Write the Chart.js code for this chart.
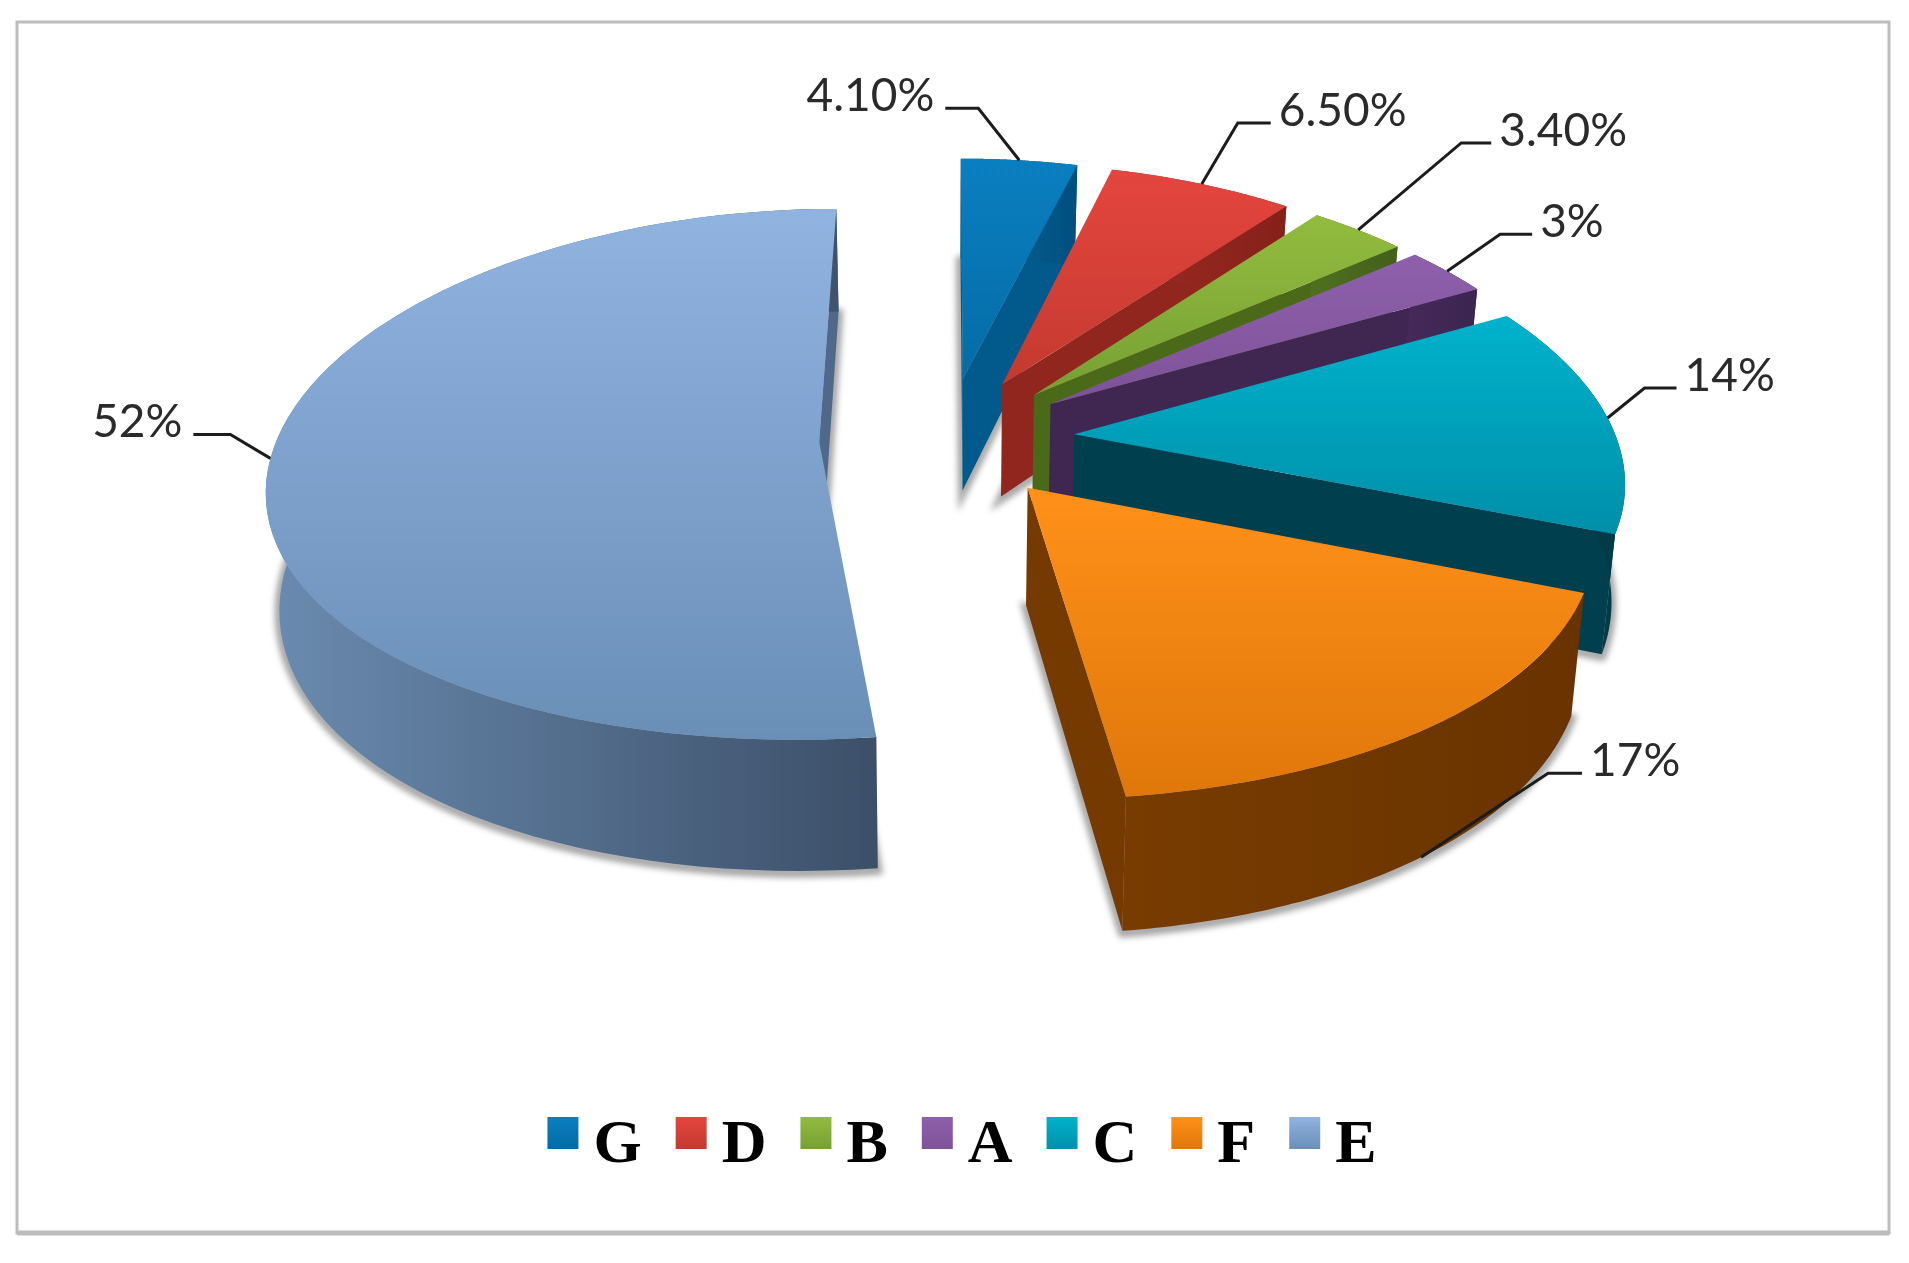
<!DOCTYPE html>
<html>
<head>
<meta charset="utf-8">
<title>Pie</title>
<script src="https://cdn.jsdelivr.net/npm/chart.js@4"></script>
<style>
    html, body { margin: 0; padding: 0; background: #fff; }
    canvas { display: block; filter: blur(0.7px); }
</style>
</head>
<body>
<canvas id="pie" width="1909" height="1263"></canvas>
<script>
// Values, clockwise from the top
const categories = ['G', 'D', 'B', 'A', 'C', 'F', 'E'];
const shares = [4.1, 6.5, 3.4, 3, 14, 17, 52];
const shareLabels = ['4.10%', '6.50%', '3.40%', '3%', '14%', '17%', '52%'];

// Colours per slice
const topLight = ['#0a7fc0', '#e4463e', '#92bc3e', '#8e60ac', '#00b2cc', '#ff9119', '#90b3e0'];
const topDark = ['#046ca6', '#c4392f', '#76a034', '#7e5298', '#008fa9', '#e0770a', '#6a8fb7'];
const sideLight = ['#0b6497', '#9e2b22', '#4f7020', '#45295a', '#00424f', '#783c00', '#6a8bb0'];
const sideDark = ['#00507f', '#85211a', '#43601a', '#3c2550', '#003a47', '#693300', '#3c4f68'];
const wallColor = ['#02598c', '#90261e', '#4a6a1a', '#3f2752', '#003f4d', '#743a00', '#50688a'];

// Tilted view of the pie plane, with a slight perspective
const view = { cx: 947, cy: 438, a: 542, b: 260.5, kx: 0.155, ky: 0.122, depth: 115, shrink: 0.98 };

// Leader line for each label: elbow relative to the slice rim, then the horizontal tail
const leaders = [
    { dx: -41, dy: -52, tail: -33 },
    { dx: 36, dy: -61, tail: 33 },
    { dx: 103, dy: -87, tail: 30 },
    { dx: 53, dy: -37, tail: 32 },
    { dx: 37, dy: -30, tail: 32 },
    { dx: 127, dy: -84, tail: 34, lower: true },
    { dx: -40, dy: -24, tail: -37 }
];

function project(u, v, lower) {
    const sx = 1 / (1 - view.kx * v);
    const sy = 1 / (1 - view.ky * v);
    let x = view.cx + view.a * u * sx;
    let y = view.cy + view.b * v * sy;
    if (lower) {
        x = view.cx + (x - view.cx) * view.shrink;
        y += view.depth * sy;
    }
    return { x: x, y: y };
}

// Plane position of a point on the rim of an arc element, the exploded offset included
function planePoint(arc, angle, radius) {
    const mid = (arc.startAngle + arc.endAngle) / 2;
    const d = arc.options.offset / arc.outerRadius;
    return { u: d * Math.cos(mid) + radius * Math.cos(angle), v: d * Math.sin(mid) + radius * Math.sin(angle) };
}

function rimPoints(arc, lower) {
    const pts = [];
    const steps = 80;
    for (let i = 0; i <= steps; i++) {
        const t = arc.startAngle + (arc.endAngle - arc.startAngle) * i / steps;
        const p = planePoint(arc, t, 1);
        pts.push(project(p.u, p.v, lower));
    }
    return pts;
}

function tracePolygon(ctx, pts) {
    ctx.beginPath();
    pts.forEach((p, i) => i ? ctx.lineTo(p.x, p.y) : ctx.moveTo(p.x, p.y));
    ctx.closePath();
}

function polygonArea(pts) {
    let sum = 0;
    pts.forEach((p, i) => {
        const n = pts[(i + 1) % pts.length];
        sum += p.x * n.y - n.x * p.y;
    });
    return sum / 2;
}

function bounds(pts) {
    return {
        left: Math.min(...pts.map(p => p.x)),
        right: Math.max(...pts.map(p => p.x)),
        top: Math.min(...pts.map(p => p.y)),
        bottom: Math.max(...pts.map(p => p.y))
    };
}

const pie3d = {
    id: 'pie3d',
    beforeDraw(chart) {
        const ctx = chart.ctx;
        ctx.save();
        ctx.fillStyle = '#fff';
        ctx.fillRect(0, 0, chart.width, chart.height);
        ctx.strokeStyle = '#bcbcbc';
        ctx.lineWidth = 3;
        ctx.strokeRect(17, 22, 1872, 1211);
        ctx.lineWidth = 5;
        ctx.beginPath();
        ctx.moveTo(17, 1233);
        ctx.lineTo(1889, 1233);
        ctx.stroke();
        ctx.restore();
    },
    // the slices are drawn here in place of the flat arcs
    beforeDatasetDraw(chart) {
        const ctx = chart.ctx;
        const arcs = chart.getDatasetMeta(0).data;

        // soft shadow first, so that it never falls over another slice
        arcs.forEach(arc => {
            const apex = planePoint(arc, 0, 0);
            const low = rimPoints(arc, true);
            low.push(project(apex.u, apex.v, true));
            ctx.save();
            ctx.filter = 'blur(3px)';
            ctx.translate(0, 2);
            ctx.fillStyle = '#a8a8a8';
            ctx.strokeStyle = '#a8a8a8';
            ctx.lineWidth = 9;
            tracePolygon(ctx, low);
            ctx.fill();
            ctx.stroke();
            ctx.restore();
        });

        arcs.forEach((arc, i) => {
            const plane = planePoint(arc, 0, 0);
            const apexTop = project(plane.u, plane.v, false);
            const apexLow = project(plane.u, plane.v, true);
            const top = rimPoints(arc, false);
            const low = rimPoints(arc, true);

            // radial walls, only when they face the viewer
            const startWall = [apexTop, top[0], low[0], apexLow];
            const endWall = [apexTop, top[top.length - 1], low[low.length - 1], apexLow];
            ctx.fillStyle = wallColor[i];
            if (polygonArea(startWall) < 0) {
                tracePolygon(ctx, startWall);
                ctx.fill();
            }
            if (polygonArea(endWall) > 0) {
                tracePolygon(ctx, endWall);
                ctx.fill();
            }

            // outer wall
            const wall = top.concat(low.slice().reverse());
            const wb = bounds(wall);
            const sideGrad = ctx.createLinearGradient(wb.left, 0, wb.right, 0);
            sideGrad.addColorStop(0, sideLight[i]);
            sideGrad.addColorStop(1, sideDark[i]);
            ctx.fillStyle = sideGrad;
            tracePolygon(ctx, wall);
            ctx.fill();

            // top face
            const face = [apexTop].concat(top);
            const fb = bounds(face);
            const topGrad = ctx.createLinearGradient(0, fb.top, 0, fb.bottom);
            topGrad.addColorStop(0, topLight[i]);
            topGrad.addColorStop(1, topDark[i]);
            ctx.fillStyle = topGrad;
            tracePolygon(ctx, face);
            ctx.fill();
        });

        // leader lines and value labels
        ctx.save();
        ctx.font = '46px Lato';
        ctx.textBaseline = 'middle';
        arcs.forEach((arc, i) => {
            const l = leaders[i];
            const mid = (arc.startAngle + arc.endAngle) / 2;
            const p = planePoint(arc, mid, 1);
            const start = project(p.u, p.v, !!l.lower);
            const ex = start.x + l.dx;
            const ey = start.y + l.dy;
            ctx.strokeStyle = '#1c1c1c';
            ctx.lineWidth = 3;
            ctx.beginPath();
            ctx.moveTo(start.x, start.y);
            ctx.lineTo(ex, ey);
            ctx.lineTo(ex + l.tail, ey);
            ctx.stroke();
            ctx.fillStyle = '#2a2a2a';
            ctx.textAlign = l.tail < 0 ? 'right' : 'left';
            ctx.fillText(shareLabels[i], ex + l.tail + (l.tail < 0 ? -11 : 8), ey - 12);
        });
        ctx.restore();
        return false;
    },
    // legend swatches sit a little above the letters, so they are placed by hand on the legend's boxes
    afterDraw(chart) {
        const ctx = chart.ctx;
        chart.legend.legendHitBoxes.forEach((box, i) => {
            const grad = ctx.createLinearGradient(0, 1117, 0, 1149);
            grad.addColorStop(0, topLight[i]);
            grad.addColorStop(1, topDark[i]);
            ctx.fillStyle = grad;
            ctx.fillRect(box.left, 1117, 31, 32);
        });
    }
};

new Chart(document.getElementById('pie').getContext('2d'), {
    type: 'pie',
    data: {
        labels: categories,
        datasets: [{
            data: shares,
            backgroundColor: topLight,
            borderWidth: 0,
            offset: 114
        }]
    },
    plugins: [pie3d],
    options: {
        responsive: false,
        animation: false,
        layout: { padding: { left: 15, bottom: 76 } },
        plugins: {
            tooltip: { enabled: false },
            legend: {
                position: 'bottom',
                labels: {
                    boxWidth: 15,
                    boxHeight: 0,
                    padding: 34,
                    color: '#000',
                    font: { family: '"Liberation Serif"', size: 62, weight: 'bold' },
                    generateLabels(chart) {
                        return categories.map((c, i) => ({
                            text: c,
                            index: i,
                            fillStyle: 'rgba(0,0,0,0)',
                            strokeStyle: 'rgba(0,0,0,0)',
                            lineWidth: 0
                        }));
                    }
                }
            }
        }
    }
});
</script>
</body>
</html>
